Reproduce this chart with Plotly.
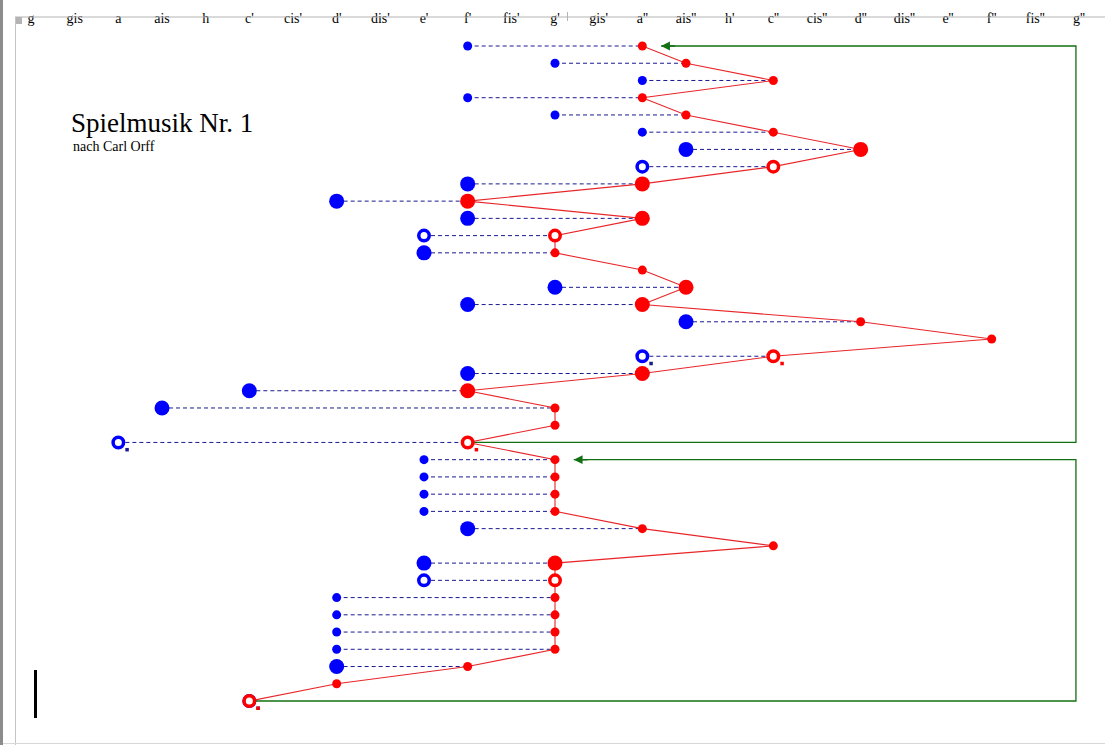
import plotly.graph_objects as go

# ---------------- data ----------------
note_names = ["g", "gis", "a", "ais", "h", "c'", "cis'", "d'", "dis'", "e'", "f'", "fis'", "g'",
              "gis'", "a''", "ais''", "h'", "c''", "cis''", "d''", "dis''", "e''", "f''", "fis''", "g''"]

bass_notes = ["f'", "g'", "a''", "f'", "g'", "a''", "ais''", "a''", "f'", "d'", "f'", "e'", "e'", None,
              "g'", "f'", "ais''", None, "a''", "f'", "c'", "ais", None, "a", "e'", "e'", "e'", "e'",
              "f'", None, "e'", "e'", "d'", "d'", "d'", "d'", "d'", None, "c'"]
bass_values = ["8", "8", "8", "8", "8", "8", "4", "2", "4", "4", "4", "2", "4", None,
               "4", "4", "4", None, "2.", "4", "4", "4", None, "2.", "8", "8", "8", "8",
               "4", None, "4", "2", "8", "8", "8", "8", "4", None, "2."]
melody_notes = ["a''", "ais''", "c''", "a''", "ais''", "c''", "d''", "c''", "a''", "f'", "a''", "g'", "g'", "a''",
                "ais''", "a''", "d''", "f''", "c''", "a''", "f'", "g'", "g'", "f'", "g'", "g'", "g'", "g'",
                "a''", "c''", "g'", "g'", "g'", "g'", "g'", "g'", "f'", "d'", "c'"]
melody_values = ["8", "8", "8", "8", "8", "8", "4", "2", "4", "4", "4", "2", "8", "8",
                 "4", "4", "8", "8", "2.", "4", "4", "8", "8", "2.", "8", "8", "8", "8",
                 "8", "8", "4", "2", "8", "8", "8", "8", "8", "8", "2."]

repeat_from_rows = [24, 39]   # 1-based row where the repeat starts
repeat_to_rows = [1, 25]      # 1-based row it jumps back to

title_text = "Spielmusik Nr. 1"
subtitle_text = "nach Carl Orff"

# ---------------- styling ----------------
W, H = 1105, 745
TOP = 17
BLUE = "#0000ff"
NAVY = "#1a1a90"
RED = "#ff0000"
LINE_RED = "#e8262a"
GREEN = "#127012"
SERIF = "Liberation Serif, Times New Roman, serif"

idx = {n: i for i, n in enumerate(note_names)}
rows = list(range(len(melody_notes)))


def px_x(p):
    return p / W


def px_y(p):
    return 1 - (p - TOP) / (H - TOP)


fig = go.Figure()

# dashed bass-to-melody connectors
dx, dy = [], []
for r in rows:
    if bass_notes[r] is not None:
        dx += [idx[bass_notes[r]], idx[melody_notes[r]], None]
        dy += [r, r, None]
fig.add_trace(go.Scatter(x=dx, y=dy, mode="lines", line=dict(color=NAVY, width=1, dash="4px,3px"),
                         hoverinfo="skip", showlegend=False))

# melody line
fig.add_trace(go.Scatter(x=[idx[n] for n in melody_notes], y=rows, mode="lines",
                         line=dict(color=LINE_RED, width=1.1), hoverinfo="skip", showlegend=False))

# repeat paths
RIGHT_X = 23.93
TIP_OFF = 0.43
for fr, to in zip(repeat_from_rows, repeat_to_rows):
    f, t = fr - 1, to - 1
    tip = idx[melody_notes[t]] + TIP_OFF
    fig.add_trace(go.Scatter(x=[idx[melody_notes[f]], RIGHT_X, RIGHT_X, tip], y=[f, f, t, t],
                             mode="lines", line=dict(color=GREEN, width=1.3),
                             hoverinfo="skip", showlegend=False))
    fig.add_annotation(x=tip, y=t, ax=tip + 0.35, ay=t, xref="x", yref="y", axref="x", ayref="y",
                       text="", showarrow=True, arrowhead=2, arrowsize=1.1, arrowwidth=1.6,
                       arrowcolor=GREEN)


def add_notes(notes, values, color, dotcolor):
    groups = {"8": ([], []), "4": ([], []), "2": ([], []), "2.": ([], [])}
    for r in rows:
        if notes[r] is None:
            continue
        groups[values[r]][0].append(idx[notes[r]])
        groups[values[r]][1].append(r)
    sx, sy = groups["8"]
    fig.add_trace(go.Scatter(x=sx, y=sy, mode="markers", marker=dict(color=color, size=9, line=dict(width=0)),
                             hoverinfo="skip", showlegend=False))
    lx, ly = groups["4"]
    fig.add_trace(go.Scatter(x=lx, y=ly, mode="markers", marker=dict(color=color, size=15, line=dict(width=0)),
                             hoverinfo="skip", showlegend=False))
    ox = groups["2"][0] + groups["2."][0]
    oy = groups["2"][1] + groups["2."][1]
    fig.add_trace(go.Scatter(x=ox, y=oy, mode="markers",
                             marker=dict(symbol="circle", color="white", size=10.5,
                                         line=dict(width=3.5, color=color)),
                             hoverinfo="skip", showlegend=False))
    for x, y in zip(*groups["2."]):
        fig.add_shape(type="rect", xref="x", yref="y", xsizemode="pixel", ysizemode="pixel",
                      xanchor=x, yanchor=y, x0=7, x1=10.5, y0=-5.5, y1=-9,
                      fillcolor=dotcolor, line=dict(width=0))


add_notes(bass_notes, bass_values, BLUE, NAVY)
add_notes(melody_notes, melody_values, RED, RED)

# ---------------- decorations (window / staff frame) ----------------
shapes = [
    # top axis line
    dict(type="line", xref="paper", yref="paper", x0=px_x(15), x1=1, y0=px_y(17), y1=px_y(17),
         line=dict(color="#b4b4b4", width=1)),
    # left thin frame line
    dict(type="line", xref="paper", yref="paper", x0=px_x(15.5), x1=px_x(15.5), y0=px_y(17), y1=px_y(745),
         line=dict(color="#c4c4c4", width=1)),
    # small grey square
    dict(type="rect", xref="paper", yref="paper", x0=px_x(16), x1=px_x(22), y0=px_y(24), y1=px_y(17),
         fillcolor="#b4b4b4", line=dict(width=0)),
    # window left border
    dict(type="rect", xref="paper", yref="paper", x0=0, x1=px_x(3), y0=px_y(745), y1=px_y(0),
         fillcolor="#8c8c8c", line=dict(width=0)),
    # bottom border
    dict(type="line", xref="paper", yref="paper", x0=px_x(3), x1=1, y0=px_y(743.5), y1=px_y(743.5),
         line=dict(color="#d8d8d8", width=1)),
    # small mid tick
    dict(type="line", xref="paper", yref="paper", x0=px_x(567.5), x1=px_x(567.5), y0=px_y(21), y1=px_y(12),
         line=dict(color="#b4b4b4", width=1)),
    # black cursor bar
    dict(type="rect", xref="paper", yref="paper", x0=px_x(34), x1=px_x(37), y0=px_y(718), y1=px_y(670),
         fillcolor="#000000", line=dict(width=0)),
]
for s in shapes:
    fig.add_shape(**s)

fig.add_annotation(x=px_x(69), y=px_y(123), xref="paper", yref="paper", xanchor="left", yanchor="middle",
                   text=title_text, showarrow=False, font=dict(family=SERIF, size=27, color="#000000"))
fig.add_annotation(x=px_x(71), y=px_y(146), xref="paper", yref="paper", xanchor="left", yanchor="middle",
                   text=subtitle_text, showarrow=False, font=dict(family=SERIF, size=14, color="#000000"))

PXU = (1079 - 31) / 24
ROWU = (701 - 46) / 38
fig.update_layout(
    width=W, height=H,
    margin=dict(l=0, r=0, t=TOP, b=0),
    plot_bgcolor="white", paper_bgcolor="white",
    showlegend=False,
    xaxis=dict(range=[-31 / PXU, (W - 31) / PXU], tickvals=list(range(len(note_names))), ticktext=note_names,
               side="top", showgrid=False, zeroline=False, showline=False, ticks="",
               tickfont=dict(family=SERIF, size=14, color="#000000"), ticklabelstandoff=-10,
               fixedrange=True),
    yaxis=dict(range=[(H - 46) / ROWU, -(46 - TOP) / ROWU], visible=False, fixedrange=True),
)

fig.write_html("out.html", config={"displayModeBar": False},
               post_script="document.body.style.margin='0px';document.body.style.overflow='hidden';")
